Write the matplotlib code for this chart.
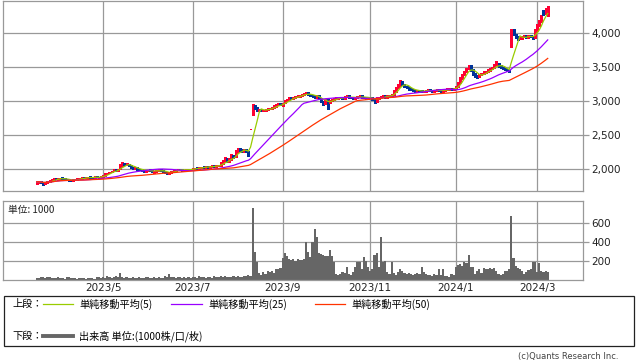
import matplotlib
matplotlib.use("Agg")
import matplotlib.pyplot as plt
import matplotlib.ticker as ticker
from matplotlib.patches import Rectangle
from matplotlib.lines import Line2D
import numpy as np
import pandas as pd

plt.rcParams['font.family'] = ['Noto Sans CJK JP', 'DejaVu Sans']

# pregão de Tóquio (feriados fora)
feriados = ["2023-03-21", "2023-05-03", "2023-05-04", "2023-05-05", "2023-07-17",
            "2023-08-11", "2023-09-18", "2023-10-09", "2023-11-03", "2023-11-23",
            "2023-12-29", "2024-01-01", "2024-01-02", "2024-01-03", "2024-01-08",
            "2024-02-12", "2024-02-23"]
datas = pd.bdate_range("2023-03-16", "2024-03-08", freq="C", holidays=feriados)

abertura = [
    1800, 1810, 1825, 1805, 1795, 1810, 1825, 1835, 1850, 1865,
    1855, 1860, 1872, 1862, 1852, 1848, 1842, 1835, 1842, 1850,
    1860, 1868, 1878, 1870, 1878, 1888, 1882, 1876, 1892, 1888,
    1882, 1895, 1912, 1935, 1948, 1962, 1978, 1995, 1985, 2010,
    2060, 2090, 2068, 2078, 2052, 2032, 2008, 2022, 2002, 1992,
    1982, 1970, 1984, 1992, 1978, 1958, 1970, 1984, 1998, 1982,
    1962, 1948, 1938, 1952, 1968, 1984, 1990, 2002, 1996, 1984,
    1990, 2002, 1994, 2004, 2010, 2022, 2014, 2024, 2038, 2028,
    2042, 2030, 2044, 2052, 2040, 2054, 2060, 2088, 2118, 2150,
    2110, 2150, 2205, 2190, 2265, 2305, 2285, 2268, 2292, 2262,
    2580, 2820, 2940, 2905, 2868, 2885, 2858, 2868, 2878, 2888,
    2898, 2908, 2928, 2948, 2962, 2942, 2985, 3008, 3028, 3055,
    3038, 3058, 3068, 3078, 3088, 3098, 3108, 3125, 3102, 3092,
    3072, 3058, 3082, 3048, 3000, 2962, 3022, 2982, 3008, 3028,
    3038, 3048, 3062, 3052, 3040, 3068, 3082, 3062, 3052, 3040,
    3058, 3068, 3082, 3062, 3052, 3040, 3062, 3052, 3032, 3000,
    3048, 3058, 3068, 3082, 3058, 3078, 3088, 3100, 3148, 3198,
    3238, 3292, 3252, 3222, 3202, 3182, 3172, 3162, 3148, 3162,
    3152, 3138, 3148, 3158, 3172, 3162, 3148, 3158, 3172, 3162,
    3148, 3158, 3168, 3178, 3192, 3168, 3180, 3220, 3278, 3338,
    3388, 3438, 3478, 3525, 3462, 3402, 3372, 3362, 3388, 3408,
    3428, 3438, 3458, 3478, 3498, 3538, 3562, 3522, 3502, 3482,
    3472, 3452, 3840, 4045, 3985, 3945, 3918, 3928, 3948, 3962,
    3938, 3972, 3952, 3935, 4048, 4118, 4182, 4320, 4300, 4270,
]

maximas = [
    1825, 1830, 1830, 1812, 1812, 1828, 1840, 1858, 1870, 1872,
    1872, 1878, 1880, 1868, 1858, 1852, 1848, 1850, 1856, 1866,
    1876, 1882, 1884, 1886, 1892, 1894, 1888, 1896, 1898, 1892,
    1900, 1916, 1940, 1952, 1966, 1982, 1998, 2002, 2008, 2075,
    2100, 2098, 2090, 2085, 2060, 2038, 2028, 2030, 2008, 1998,
    1988, 1990, 1996, 1998, 1984, 1976, 1990, 2002, 2004, 1986,
    1968, 1954, 1956, 1976, 1990, 1996, 2006, 2008, 2000, 1996,
    2006, 2008, 2010, 2016, 2026, 2028, 2030, 2040, 2044, 2046,
    2048, 2050, 2056, 2058, 2060, 2066, 2100, 2130, 2180, 2160,
    2170, 2230, 2215, 2290, 2320, 2315, 2295, 2300, 2300, 2270,
    2580, 2960, 2950, 2915, 2890, 2892, 2878, 2888, 2898, 2908,
    2918, 2938, 2958, 2968, 2970, 2978, 3018, 3038, 3058, 3062,
    3068, 3078, 3088, 3098, 3108, 3120, 3135, 3132, 3110, 3098,
    3080, 3088, 3090, 3055, 3010, 3028, 3030, 3018, 3038, 3048,
    3058, 3068, 3070, 3060, 3078, 3090, 3090, 3070, 3060, 3068,
    3078, 3088, 3090, 3070, 3060, 3068, 3070, 3058, 3040, 3058,
    3068, 3078, 3088, 3090, 3088, 3098, 3110, 3160, 3210, 3260,
    3310, 3300, 3260, 3230, 3210, 3190, 3180, 3170, 3168, 3170,
    3160, 3158, 3168, 3178, 3180, 3168, 3166, 3178, 3180, 3168,
    3168, 3178, 3188, 3198, 3200, 3188, 3230, 3290, 3350, 3400,
    3450, 3490, 3540, 3535, 3470, 3410, 3380, 3398, 3420, 3440,
    3450, 3468, 3490, 3510, 3550, 3585, 3570, 3530, 3510, 3490,
    3480, 3460, 4070, 4060, 3995, 3955, 3940, 3958, 3970, 3970,
    3980, 3980, 3960, 4060, 4130, 4200, 4270, 4340, 4370, 4400,
]

minimas = [
    1790, 1800, 1795, 1775, 1785, 1805, 1818, 1830, 1845, 1850,
    1848, 1855, 1855, 1845, 1838, 1835, 1828, 1830, 1838, 1845,
    1855, 1862, 1865, 1866, 1872, 1875, 1870, 1872, 1880, 1874,
    1876, 1890, 1905, 1928, 1940, 1955, 1972, 1978, 1980, 2005,
    2050, 2062, 2060, 2045, 2025, 2004, 2002, 1995, 1984, 1974,
    1964, 1965, 1978, 1970, 1955, 1952, 1965, 1978, 1975, 1955,
    1940, 1932, 1934, 1948, 1964, 1978, 1985, 1990, 1980, 1978,
    1985, 1990, 1990, 2000, 2005, 2010, 2010, 2020, 2025, 2024,
    2025, 2026, 2040, 2035, 2036, 2050, 2055, 2082, 2110, 2100,
    2105, 2140, 2170, 2185, 2255, 2270, 2260, 2260, 2250, 2200,
    2580, 2800, 2880, 2850, 2860, 2850, 2850, 2860, 2870, 2880,
    2890, 2900, 2920, 2940, 2938, 2935, 2975, 3000, 3020, 3032,
    3030, 3050, 3060, 3070, 3080, 3090, 3100, 3095, 3084, 3062,
    3052, 3050, 3042, 2990, 2950, 2955, 2880, 2975, 3000, 3020,
    3030, 3040, 3044, 3032, 3034, 3060, 3052, 3044, 3032, 3034,
    3050, 3060, 3052, 3044, 3030, 3034, 3044, 3024, 2970, 2995,
    3040, 3050, 3060, 3052, 3050, 3070, 3080, 3095, 3140, 3190,
    3230, 3240, 3210, 3190, 3172, 3162, 3152, 3142, 3140, 3142,
    3132, 3130, 3142, 3152, 3152, 3142, 3140, 3152, 3152, 3142,
    3140, 3150, 3160, 3170, 3162, 3160, 3175, 3210, 3270, 3330,
    3380, 3430, 3470, 3450, 3390, 3360, 3340, 3350, 3380, 3400,
    3420, 3430, 3450, 3470, 3490, 3530, 3510, 3490, 3470, 3460,
    3440, 3425, 3800, 3970, 3930, 3905, 3910, 3920, 3940, 3930,
    3930, 3940, 3910, 3930, 4040, 4110, 4170, 4270, 4280, 4250,
]

fechamento = [
    1815, 1820, 1800, 1790, 1805, 1820, 1830, 1850, 1860, 1855,
    1865, 1870, 1860, 1850, 1845, 1840, 1835, 1845, 1850, 1860,
    1870, 1875, 1870, 1880, 1885, 1880, 1875, 1890, 1885, 1880,
    1895, 1910, 1935, 1945, 1960, 1975, 1990, 1985, 2000, 2060,
    2085, 2070, 2080, 2050, 2030, 2010, 2020, 2000, 1990, 1980,
    1970, 1985, 1990, 1975, 1960, 1970, 1985, 1995, 1980, 1960,
    1945, 1940, 1950, 1970, 1985, 1990, 2000, 1995, 1985, 1990,
    2000, 1995, 2005, 2010, 2020, 2015, 2025, 2035, 2030, 2040,
    2030, 2045, 2050, 2040, 2055, 2060, 2090, 2120, 2140, 2110,
    2160, 2200, 2180, 2270, 2300, 2280, 2270, 2290, 2260, 2230,
    2580, 2930, 2900, 2870, 2880, 2860, 2870, 2880, 2890, 2900,
    2910, 2930, 2950, 2960, 2945, 2970, 3010, 3030, 3050, 3040,
    3060, 3070, 3080, 3090, 3100, 3110, 3120, 3100, 3090, 3070,
    3060, 3080, 3050, 3000, 2960, 3020, 2980, 3010, 3030, 3040,
    3050, 3060, 3050, 3040, 3070, 3080, 3060, 3050, 3040, 3060,
    3070, 3080, 3060, 3050, 3040, 3060, 3050, 3030, 3000, 3050,
    3060, 3070, 3080, 3060, 3080, 3090, 3100, 3150, 3200, 3240,
    3290, 3250, 3220, 3200, 3180, 3170, 3160, 3150, 3160, 3150,
    3140, 3150, 3160, 3170, 3160, 3150, 3160, 3170, 3160, 3150,
    3160, 3170, 3180, 3190, 3170, 3180, 3220, 3280, 3340, 3390,
    3440, 3480, 3520, 3460, 3400, 3370, 3360, 3390, 3410, 3430,
    3440, 3460, 3480, 3500, 3540, 3560, 3520, 3500, 3480, 3470,
    3450, 3440, 4040, 3980, 3940, 3920, 3930, 3950, 3960, 3940,
    3970, 3950, 3930, 4050, 4120, 4180, 4250, 4300, 4350, 4380,
]

# volume em milhares
volume = [
    20, 25, 35, 30, 25, 35, 30, 25, 20, 25,
    30, 20, 25, 15, 35, 30, 25, 20, 20, 15,
    25, 20, 20, 15, 20, 25, 20, 15, 30, 35,
    25, 30, 20, 40, 30, 25, 35, 40, 30, 75,
    30, 25, 30, 20, 25, 30, 20, 25, 30, 20,
    25, 30, 35, 20, 25, 30, 20, 35, 25, 20,
    40, 30, 60, 35, 30, 25, 30, 35, 25, 30,
    25, 30, 20, 35, 30, 25, 40, 30, 35, 25,
    30, 35, 25, 40, 30, 35, 45, 30, 40, 35,
    30, 35, 45, 35, 40, 30, 35, 40, 45, 55,
    40, 755, 290, 185, 70, 55, 80, 60, 90, 85,
    90, 75, 120, 110, 130, 235, 280, 250, 215, 210,
    215, 200, 225, 210, 205, 220, 395, 290, 240, 395,
    530, 445, 280, 270, 265, 250, 255, 315, 255, 190,
    65, 55, 60, 80, 70, 135, 60, 55, 85, 140,
    190, 190, 120, 245, 200, 135, 90, 110, 265, 280,
    135, 445, 190, 200, 80, 60, 190, 70, 55, 80,
    120, 90, 70, 60, 75, 65, 55, 60, 70, 60,
    140, 80, 60, 55, 50, 45, 60, 55, 110, 50,
    115, 45, 40, 35, 60, 55, 135, 160, 170, 150,
    190, 175, 265, 135, 135, 60, 90, 120, 75, 130,
    115, 120, 130, 110, 130, 95, 60, 55, 65, 90,
    95, 110, 670, 235, 150, 130, 120, 95, 60, 80,
    100, 110, 190, 190, 85, 180, 90, 85, 90, 80,
]

meses_rotulo = [5, 7, 9, 11, 1, 3]
precos_y = [2000, 2500, 3000, 3500, 4000]
volume_y = [200, 400, 600]

VERMELHO = "#ff0033"
AZUL = "#003399"
GRADE = "#999999"

o = np.array(abertura, dtype=float)
h = np.array(maximas, dtype=float)
l = np.array(minimas, dtype=float)
c = np.array(fechamento, dtype=float)
v = np.array(volume, dtype=float)
x = np.arange(len(c))
datas = datas[:len(c)]

# posicoes dos meses (primeiro pregao do mes, sem o mes incompleto do inicio)
df_datas = pd.DataFrame({"i": x, "ano": datas.year, "mes": datas.month})
primeiros = df_datas.groupby(["ano", "mes"]).first().reset_index()
primeiros = primeiros[primeiros["mes"].isin(meses_rotulo) & (primeiros["i"] > 0)]
pos_ticks = primeiros["i"].values
rot_ticks = [f"{a}/{m}" for a, m in zip(primeiros["ano"], primeiros["mes"])]

W, H = 638, 362
fig = plt.figure(figsize=(W / 100, H / 100), dpi=100)
ax = fig.add_axes([3 / W, 1 - 190.5 / H, 580 / W, 190 / H])
axv = fig.add_axes([3 / W, 1 - 280 / H, 580 / W, 79 / H])

for a in (ax, axv):
    a.set_xlim(-15.8, 255.5)
    a.set_xticks(pos_ticks)
    a.grid(True, color=GRADE, linewidth=0.9)
    a.set_axisbelow(True)
    for s in a.spines.values():
        s.set_color(GRADE)
        s.set_linewidth(0.9)
    a.yaxis.tick_right()
    a.tick_params(axis="y", length=4, width=0.9, color=GRADE, labelsize=7.5,
                  labelcolor="#222222", pad=2)
    a.tick_params(axis="x", length=0)

# candles
cores = np.where(c >= o, VERMELHO, AZUL)
ax.vlines(x, l, h, colors=cores, linewidth=1.0, zorder=2, antialiased=False)
corpo = np.maximum(np.abs(c - o), 10)
ax.bar(x, corpo, bottom=np.minimum(o, c), width=0.95, color=cores, linewidth=0,
       zorder=2, antialiased=False)

# medias moveis
serie = pd.Series(c)
ax.plot(x, serie.rolling(5, min_periods=1).mean(), color="#99cc00", lw=0.9, zorder=3)
ax.plot(x, serie.rolling(25, min_periods=1).mean(), color="#9900ff", lw=0.9, zorder=3)
ax.plot(x, serie.rolling(50, min_periods=1).mean(), color="#ff3300", lw=0.9, zorder=3)

ax.set_ylim(1688, 4482)
ax.set_yticks(precos_y)
ax.yaxis.set_major_formatter(ticker.StrMethodFormatter('{x:,.0f}'))
ax.tick_params(axis="x", labelbottom=False)
for t in ax.get_yticklabels():
    t.set_family("DejaVu Sans")

# volume
axv.bar(x, v, width=1.0, color="#666666", linewidth=0, zorder=2)
axv.set_ylim(0, 827)
axv.set_yticks(volume_y)
axv.set_xticklabels(rot_ticks, fontsize=7.5, color="#222222", family="DejaVu Sans")
axv.tick_params(axis="x", pad=2)
for t in axv.get_yticklabels():
    t.set_family("DejaVu Sans")
axv.text(0.008, 0.95, "単位: 1000", transform=axv.transAxes, fontsize=7,
         va="top", ha="left", color="#222222")

# legenda
def fx(px):
    return px / W

def fy(py):
    return 1 - py / H

fig.add_artist(Rectangle((fx(3.5), fy(346)), fx(630.5), 50 / H, transform=fig.transFigure,
                         fill=False, edgecolor="#222222", linewidth=0.9))
fonte_leg = 7.3
fig.text(fx(12), fy(304), "上段：", fontsize=fonte_leg, va="center", ha="left")
fig.text(fx(12), fy(336), "下段：", fontsize=fonte_leg, va="center", ha="left")
itens = [(43, 73, "#99cc00", "単純移動平均(5)"),
         (171, 202, "#9900ff", "単純移動平均(25)"),
         (315, 345, "#ff3300", "単純移動平均(50)")]
for x0, x1, cor, nome in itens:
    fig.add_artist(Line2D([fx(x0), fx(x1)], [fy(304), fy(304)], color=cor, lw=0.9,
                          transform=fig.transFigure))
    fig.text(fx(x1 + 6), fy(304), nome, fontsize=fonte_leg, va="center", ha="left")
fig.add_artist(Line2D([fx(43), fx(73)], [fy(336), fy(336)], color="#666666", lw=2.8,
                      transform=fig.transFigure))
fig.text(fx(79), fy(336), "出来高 単位:(1000株/口/枚)", fontsize=fonte_leg, va="center", ha="left")

fig.text(fx(619), fy(356), "(c)Quants Research Inc.", fontsize=6, va="center", ha="right",
         color="#444444", family="DejaVu Sans")

fig.savefig("out.png", dpi=100)
